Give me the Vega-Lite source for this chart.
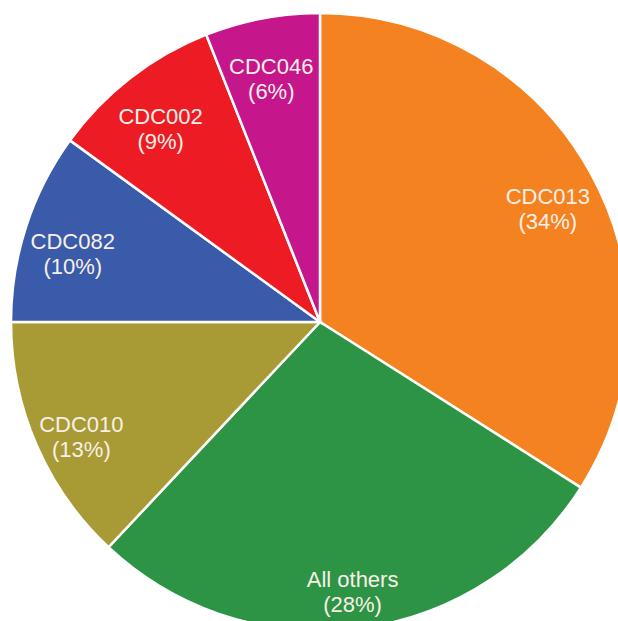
{
  "$schema": "https://vega.github.io/schema/vega-lite/v6.json",
  "width": 640,
  "height": 644,
  "padding": 0,
  "autosize": {"type": "none"},
  "background": "white",
  "view": {"stroke": null},
  "data": {
    "values": [
      {"name": "CDC013", "pct": 34, "order": 1, "label": "CDC013\n(34%)"},
      {"name": "All others", "pct": 28, "order": 2, "label": "All others\n(28%)"},
      {"name": "CDC010", "pct": 13, "order": 3, "label": "CDC010\n(13%)"},
      {"name": "CDC082", "pct": 10, "order": 4, "label": "CDC082\n(10%)"},
      {"name": "CDC002", "pct": 9, "order": 5, "label": "CDC002\n(9%)"},
      {"name": "CDC046", "pct": 6, "order": 6, "label": "CDC046\n(6%)"}
    ]
  },
  "encoding": {
    "theta": {"field": "pct", "type": "quantitative", "stack": true},
    "order": {"field": "order", "type": "quantitative"},
    "color": {
      "field": "name",
      "type": "nominal",
      "scale": {
        "domain": ["CDC013", "All others", "CDC010", "CDC082", "CDC002", "CDC046"],
        "range": ["#F58220", "#2E9445", "#A89A34", "#3A5BA9", "#ED1C24", "#C5168C"]
      },
      "legend": null
    }
  },
  "layer": [
    {
      "mark": {"type": "arc", "outerRadius": 309, "stroke": "white", "strokeWidth": 2.5}
    },
    {
      "mark": {
        "type": "text",
        "radius": 260,
        "fontSize": 22,
        "font": "Liberation Sans",
        "lineBreak": "\n",
        "lineHeight": 25,
        "align": "center",
        "baseline": "middle"
      },
      "encoding": {
        "text": {"field": "label"},
        "color": {"value": "#F8F0E8"}
      }
    }
  ]
}
